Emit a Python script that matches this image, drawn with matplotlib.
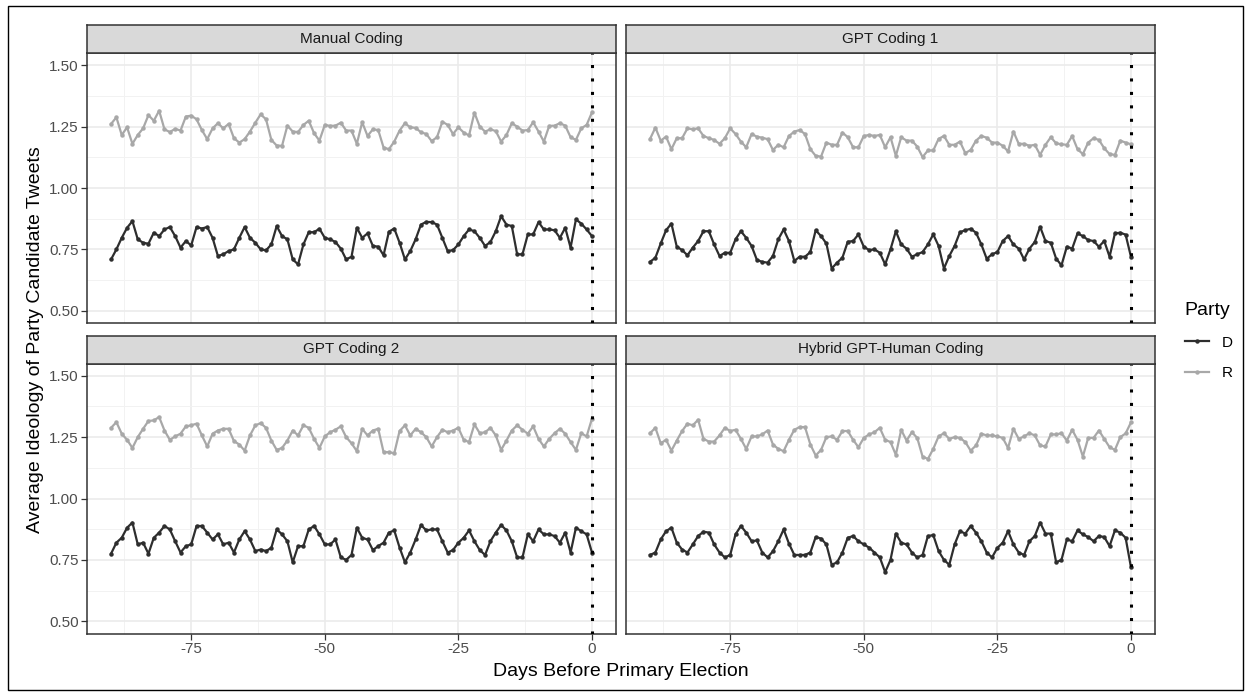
import numpy as np
import matplotlib
matplotlib.use('Agg')
import matplotlib.pyplot as plt
from matplotlib.lines import Line2D
from matplotlib.patches import Rectangle

plt.rcParams['font.family'] = ['Liberation Sans', 'DejaVu Sans']

days = np.arange(-90, 1)

manual_r = [1.261, 1.288, 1.216, 1.247, 1.180, 1.216, 1.243, 1.297, 1.274, 1.315,
            1.239, 1.228, 1.241, 1.234, 1.291, 1.295, 1.280, 1.236, 1.199, 1.243,
            1.264, 1.243, 1.261, 1.203, 1.185, 1.199, 1.230, 1.266, 1.300, 1.280,
            1.196, 1.173, 1.172, 1.254, 1.230, 1.228, 1.257, 1.274, 1.223, 1.193,
            1.257, 1.253, 1.254, 1.266, 1.234,
            1.234, 1.180, 1.268, 1.212, 1.239, 1.236, 1.165, 1.158, 1.189, 1.234,
            1.264, 1.247, 1.245, 1.227, 1.220, 1.191, 1.207, 1.270, 1.257, 1.220,
            1.247, 1.226, 1.214, 1.307, 1.250, 1.230, 1.239, 1.232, 1.189, 1.216,
            1.264, 1.250, 1.234, 1.236, 1.268, 1.230, 1.189, 1.253, 1.254, 1.264,
            1.254, 1.207, 1.196, 1.243, 1.257, 1.308]
manual_d = [0.709, 0.750, 0.797, 0.838, 0.865, 0.791, 0.777, 0.773, 0.818, 0.804,
            0.831, 0.841, 0.804, 0.757, 0.784, 0.766, 0.841, 0.835, 0.841, 0.797,
            0.723, 0.730, 0.743, 0.750, 0.797, 0.841, 0.797, 0.777, 0.750, 0.746,
            0.770, 0.845, 0.804, 0.791, 0.709, 0.689, 0.770, 0.820, 0.820, 0.834,
            0.797, 0.791, 0.780, 0.753, 0.709,
            0.720, 0.838, 0.797, 0.815, 0.764, 0.761, 0.726, 0.822, 0.835, 0.777,
            0.709, 0.743, 0.791, 0.851, 0.862, 0.861, 0.851, 0.797, 0.743, 0.747,
            0.770, 0.804, 0.831, 0.824, 0.797, 0.764, 0.780, 0.824, 0.885, 0.851,
            0.845, 0.730, 0.730, 0.811, 0.811, 0.861, 0.831, 0.831, 0.828, 0.797,
            0.838, 0.757, 0.872, 0.855, 0.831, 0.804]

gpt1_r = [1.200, 1.246, 1.193, 1.209, 1.158, 1.203, 1.203, 1.243, 1.239, 1.243,
          1.212, 1.203, 1.196, 1.180, 1.203, 1.243, 1.220, 1.189, 1.166, 1.220,
          1.209, 1.205, 1.199, 1.155, 1.176, 1.166, 1.212, 1.230, 1.236, 1.220,
          1.158, 1.131, 1.128, 1.185, 1.176, 1.176, 1.226, 1.207, 1.166, 1.166,
          1.212, 1.216,
          1.212, 1.216, 1.166, 1.207, 1.131, 1.207, 1.193, 1.193, 1.169, 1.126,
          1.153, 1.153, 1.200, 1.212, 1.176, 1.176, 1.189, 1.142, 1.155, 1.193,
          1.212, 1.205, 1.185, 1.185, 1.172, 1.149, 1.230, 1.180, 1.180, 1.172,
          1.176, 1.135, 1.176, 1.207, 1.182, 1.178, 1.176, 1.212, 1.158, 1.138,
          1.185, 1.203, 1.196, 1.162, 1.138, 1.135, 1.193, 1.185, 1.178]
gpt1_d = [0.699, 0.716, 0.774, 0.828, 0.855, 0.761, 0.747, 0.726, 0.757, 0.784,
          0.824, 0.824, 0.770, 0.723, 0.736, 0.736, 0.791, 0.824, 0.797, 0.764,
          0.707, 0.699, 0.696, 0.723, 0.791, 0.831, 0.784, 0.703, 0.720, 0.720,
          0.739, 0.828, 0.804, 0.774, 0.672, 0.696, 0.716, 0.781, 0.784, 0.811,
          0.761, 0.747,
          0.750, 0.736, 0.689, 0.750, 0.824, 0.770, 0.753, 0.720, 0.730, 0.739,
          0.770, 0.811, 0.764, 0.672, 0.723, 0.764, 0.820, 0.828, 0.834, 0.818,
          0.770, 0.712, 0.730, 0.739, 0.784, 0.804, 0.770, 0.753, 0.709, 0.753,
          0.780, 0.842, 0.784, 0.777, 0.712, 0.685, 0.761, 0.753, 0.815, 0.804,
          0.788, 0.784, 0.761, 0.784, 0.720, 0.815, 0.818, 0.810, 0.720]

gpt2_r = [1.288, 1.311, 1.264, 1.239, 1.206, 1.250, 1.284, 1.316, 1.318, 1.332,
          1.277, 1.239, 1.253, 1.264, 1.294, 1.298, 1.305, 1.257, 1.212, 1.264,
          1.277, 1.284, 1.284, 1.234, 1.220, 1.195, 1.257, 1.298, 1.307, 1.288,
          1.236, 1.198, 1.206, 1.236, 1.277, 1.257, 1.298, 1.288, 1.243, 1.206,
          1.253, 1.270, 1.280, 1.294, 1.250,
          1.225, 1.193, 1.284, 1.257, 1.277, 1.284, 1.189, 1.189, 1.184, 1.275,
          1.298, 1.257, 1.284, 1.270, 1.250, 1.212, 1.250, 1.280, 1.270, 1.277,
          1.288, 1.239, 1.230, 1.302, 1.266, 1.270, 1.288, 1.257, 1.198, 1.236,
          1.277, 1.298, 1.280, 1.264, 1.294, 1.243, 1.212, 1.243, 1.266, 1.284,
          1.264, 1.230, 1.198, 1.266, 1.253, 1.325]
gpt2_d = [0.775, 0.820, 0.840, 0.881, 0.902, 0.813, 0.820, 0.775, 0.840, 0.861,
          0.888, 0.874, 0.826, 0.780, 0.806, 0.813, 0.888, 0.888, 0.861, 0.833,
          0.854, 0.813, 0.820, 0.780, 0.833, 0.867, 0.833, 0.786, 0.792, 0.786,
          0.799, 0.874, 0.854, 0.826, 0.740, 0.806, 0.806, 0.874, 0.888, 0.854,
          0.813, 0.813, 0.833, 0.760, 0.750,
          0.770, 0.881, 0.840, 0.833, 0.790, 0.806, 0.820, 0.861, 0.870, 0.800,
          0.740, 0.780, 0.833, 0.892, 0.870, 0.874, 0.874, 0.826, 0.780, 0.790,
          0.820, 0.840, 0.870, 0.826, 0.790, 0.770, 0.826, 0.861, 0.892, 0.870,
          0.826, 0.760, 0.760, 0.854, 0.826, 0.874, 0.854, 0.854, 0.847, 0.820,
          0.861, 0.780, 0.881, 0.867, 0.854, 0.780]

hybrid_r = [1.266, 1.288, 1.225, 1.239, 1.195, 1.236, 1.275, 1.305, 1.298, 1.321,
            1.243, 1.232, 1.232, 1.257, 1.288, 1.275, 1.280, 1.243, 1.202, 1.253,
            1.253, 1.261, 1.277, 1.220, 1.202, 1.193, 1.239, 1.280, 1.291, 1.291,
            1.220, 1.175, 1.198, 1.250, 1.253, 1.239, 1.275, 1.275, 1.239, 1.209,
            1.247, 1.261,
            1.270, 1.288, 1.239, 1.230, 1.178, 1.280, 1.236, 1.270, 1.247, 1.171,
            1.161, 1.202, 1.253, 1.266, 1.243, 1.250, 1.247, 1.230, 1.195, 1.216,
            1.264, 1.257, 1.257, 1.253, 1.247, 1.206, 1.284, 1.243, 1.253, 1.266,
            1.257, 1.216, 1.212, 1.261, 1.261, 1.266, 1.236, 1.280, 1.239, 1.171,
            1.247, 1.247, 1.277, 1.243, 1.209, 1.198, 1.250, 1.265, 1.310]
hybrid_d = [0.770, 0.780, 0.833, 0.867, 0.881, 0.820, 0.792, 0.780, 0.813, 0.847,
            0.865, 0.861, 0.813, 0.780, 0.760, 0.770, 0.854, 0.888, 0.861, 0.826,
            0.829, 0.780, 0.760, 0.785, 0.826, 0.874, 0.816, 0.770, 0.770, 0.770,
            0.780, 0.843, 0.837, 0.813, 0.730, 0.740, 0.780, 0.840, 0.847, 0.826,
            0.813, 0.800,
            0.780, 0.760, 0.700, 0.750, 0.857, 0.820, 0.813, 0.780, 0.760, 0.770,
            0.847, 0.851, 0.786, 0.750, 0.730, 0.813, 0.867, 0.857, 0.888, 0.861,
            0.826, 0.780, 0.760, 0.799, 0.820, 0.867, 0.813, 0.780, 0.770, 0.826,
            0.847, 0.902, 0.857, 0.857, 0.740, 0.750, 0.833, 0.826, 0.870, 0.854,
            0.843, 0.826, 0.847, 0.843, 0.806, 0.870, 0.861, 0.840, 0.720]

titles = ['Manual Coding', 'GPT Coding 1', 'GPT Coding 2', 'Hybrid GPT-Human Coding']
series_d = [manual_d, gpt1_d, gpt2_d, hybrid_d]
series_r = [manual_r, gpt1_r, gpt2_r, hybrid_r]

col_d = '#2E2E2E'
col_r = '#A8A8A8'
W, H = 1250, 696

fig = plt.figure(figsize=(W / 100, H / 100), dpi=100)

# outer frame
fig.add_artist(Rectangle((8 / W, 6 / H), 1235 / W, 684 / H, transform=fig.transFigure,
                         fill=False, edgecolor='black', linewidth=1))

# panel boxes in pixels
lefts = [87, 626]
tops = [53, 363.5]
pw, ph = 529, 270
strip_h = 28

for i in range(4):
    row, col = divmod(i, 2)
    x0, y0 = lefts[col], tops[row]
    ax = fig.add_axes([x0 / W, 1 - (y0 + ph) / H, pw / W, ph / H])
    ax.plot(days, series_r[i], color=col_r, lw=1.6, marker='o', ms=2.2, zorder=3)
    ax.plot(days, series_d[i], color=col_d, lw=1.6, marker='o', ms=2.2, zorder=3)
    ax.axvline(0, color='black', lw=2.2, linestyle=(0, (1, 3.4)), zorder=4)
    ax.set_xlim(-94.5, 4.5)
    ax.set_ylim(0.45, 1.55)
    ax.set_xticks([-75, -50, -25, 0])
    ax.set_xticks([-87.5, -62.5, -37.5, -12.5], minor=True)
    ax.set_yticks([0.5, 0.75, 1.0, 1.25, 1.5])
    ax.set_yticks([0.625, 0.875, 1.125, 1.375], minor=True)
    ax.grid(True, which='major', color='#EBEBEB', lw=1.2, zorder=0)
    ax.grid(True, which='minor', color='#F2F2F2', lw=0.7, zorder=0)
    ax.set_axisbelow(True)
    for s in ax.spines.values():
        s.set_color('#333333')
        s.set_linewidth(1.1)
    ax.tick_params(which='major', direction='out', length=4, width=0.9, color='#333333',
                   labelsize=11, labelcolor='#4D4D4D', pad=2)
    ax.tick_params(which='minor', length=0)
    if col == 0:
        ax.set_yticklabels(['0.50', '0.75', '1.00', '1.25', '1.50'])
    else:
        ax.tick_params(axis='y', which='major', length=0, labelleft=False)
    if row == 0:
        ax.tick_params(axis='x', which='major', length=0, labelbottom=False)
    else:
        ax.set_xticklabels(['-75', '-50', '-25', '0'])

    sax = fig.add_axes([x0 / W, 1 - y0 / H, pw / W, strip_h / H])
    sax.set_facecolor('#D9D9D9')
    sax.set_xticks([])
    sax.set_yticks([])
    for s in sax.spines.values():
        s.set_color('#333333')
        s.set_linewidth(1.1)
    sax.text(0.5, 0.5, titles[i], ha='center', va='center', fontsize=11,
             color='#1A1A1A', transform=sax.transAxes)

fig.text(621 / W, 1 - 672 / H, 'Days Before Primary Election', ha='center', va='center',
         fontsize=14)
fig.text(36 / W, 1 - 340 / H, 'Average Ideology of Party Candidate Tweets', ha='center',
         va='center', rotation=90, fontsize=14)

handles = [Line2D([], [], color=col_d, lw=1.6, marker='o', ms=2.2),
           Line2D([], [], color=col_r, lw=1.6, marker='o', ms=2.2)]
leg = fig.legend(handles, ['D', 'R'], title='Party', loc='upper left',
                 bbox_to_anchor=(1171 / W, 1 - 288 / H), frameon=False, fontsize=11,
                 title_fontsize=14, handlelength=1.6, handletextpad=0.85, labelspacing=1.1)
leg._legend_box.align = 'left'

fig.savefig('out.png', dpi=100)
